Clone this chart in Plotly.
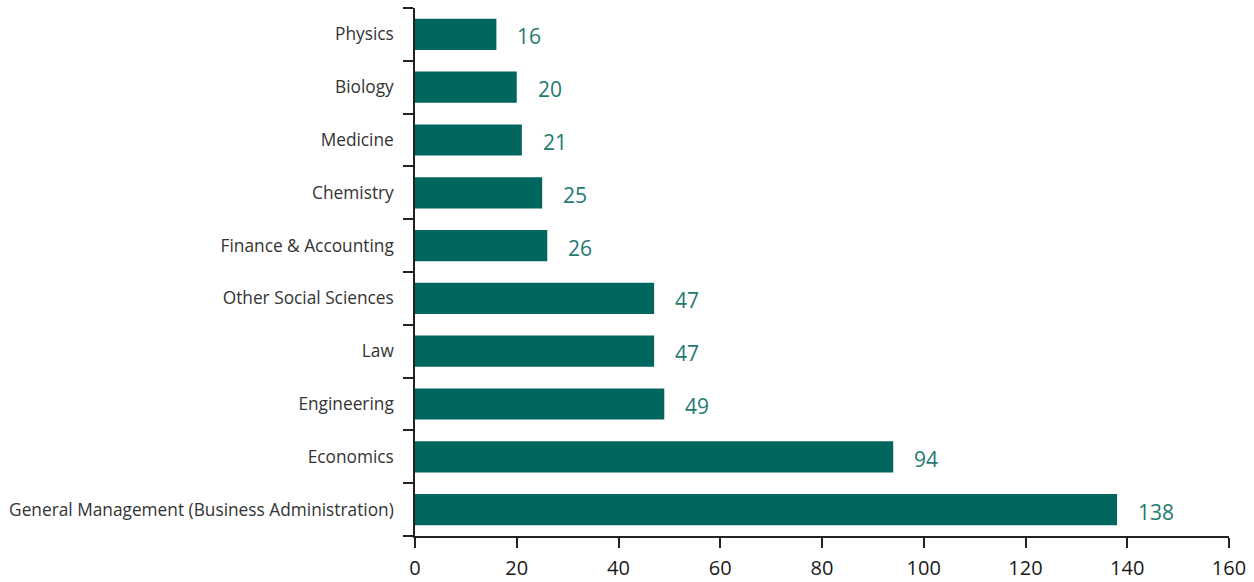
import plotly.graph_objects as go

categories = [
    "General Management (Business Administration)",
    "Economics",
    "Engineering",
    "Law",
    "Other Social Sciences",
    "Finance & Accounting",
    "Chemistry",
    "Medicine",
    "Biology",
    "Physics",
]
values = [138, 94, 49, 47, 47, 26, 25, 21, 20, 16]

x_ticks = [0, 20, 40, 60, 80, 100, 120, 140, 160]

BAR = "#00665e"
LABEL = "#1f7a70"
FONT = "Open Sans, Noto Sans, sans-serif"

fig = go.Figure(
    go.Bar(
        x=values,
        y=categories,
        orientation="h",
        marker=dict(color=BAR, line=dict(width=0)),
        width=0.59,
        hoverinfo="skip",
    )
)

# value labels placed just right of each bar end
for cat, val in zip(categories, values):
    fig.add_annotation(
        x=val, y=cat, text=str(val), showarrow=False,
        xanchor="left", xshift=19, yshift=-2,
        font=dict(family=FONT, size=21, color=LABEL),
    )

fig.update_layout(
    width=1254, height=582,
    margin=dict(l=415, r=25, t=8, b=46),
    plot_bgcolor="white", paper_bgcolor="white",
    showlegend=False,
    font=dict(family=FONT),
)

fig.update_xaxes(
    range=[0, 160], tickvals=x_ticks, ticktext=[str(t) for t in x_ticks],
    automargin=False,
    showgrid=False, zeroline=False,
    showline=True, linecolor="#222", linewidth=1.5,
    ticks="outside", ticklen=10, tickwidth=1.5, tickcolor="#222",
    ticklabelstandoff=3,
    tickfont=dict(family=FONT, size=20, color="#1a1a1a"),
)
fig.update_yaxes(
    categoryorder="array", categoryarray=categories,
    range=[-0.5, 9.5],
    automargin=False,
    showgrid=False, zeroline=False,
    showline=True, linecolor="#222", linewidth=1.5,
    ticks="outside", ticklen=10, tickwidth=1.5, tickcolor="#222",
    tickson="boundaries", ticklabelstandoff=16,
    tickfont=dict(family=FONT, size=17.3, color="#333"),
)

fig.write_html("out.html")
